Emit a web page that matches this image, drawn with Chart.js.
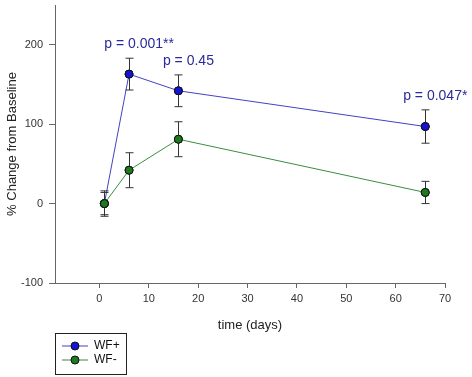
<!DOCTYPE html>
<html>
<head>
<meta charset="utf-8">
<script src="https://cdn.jsdelivr.net/npm/chart.js@4.4.1/dist/chart.umd.min.js"></script>
<style>
  html, body { margin: 0; padding: 0; background: #fff; }
  #wrap { width: 472px; height: 377px; }
</style>
</head>
<body>
<div id="wrap"><canvas id="chart" width="472" height="377"></canvas></div>
<script>
// data
const days = [1, 6, 16, 66];
const wfPlus = [0, 163, 142, 97];
const wfPlusErr = [14, 20, 20, 21];
const wfMinus = [0, 42, 81, 14];
const wfMinusErr = [16, 22, 22, 14];
const pLabels = [null, 'p = 0.001**', 'p = 0.45', 'p = 0.047*'];
const xTicks = [0, 10, 20, 30, 40, 50, 60, 70];
const yTicks = [-100, 0, 100, 200];

const FONT = 'Arial, "Liberation Sans", sans-serif';

function toPoints(xs, ys) {
  return xs.map((x, i) => ({ x: x, y: ys[i] }));
}

// vertical error bars with caps
const errorBars = {
  id: 'errorBars',
  afterDatasetsDraw(chart) {
    const ctx = chart.ctx;
    const yScale = chart.scales.y;
    ctx.save();
    ctx.strokeStyle = '#333';
    ctx.lineWidth = 1;
    chart.data.datasets.forEach((ds, di) => {
      const meta = chart.getDatasetMeta(di);
      meta.data.forEach((pt, i) => {
        const v = ds.data[i].y, e = ds.errors[i];
        const top = yScale.getPixelForValue(v + e);
        const bot = yScale.getPixelForValue(v - e);
        const x = Math.round(pt.x) + 0.5;
        ctx.beginPath();
        ctx.moveTo(x, top); ctx.lineTo(x, bot);
        ctx.moveTo(x - 4, top); ctx.lineTo(x + 4, top);
        ctx.moveTo(x - 4, bot); ctx.lineTo(x + 4, bot);
        ctx.stroke();
      });
    });
    ctx.restore();
    // redraw markers on top of bars
    chart.data.datasets.forEach((ds, di) => {
      chart.getDatasetMeta(di).data.forEach(pt => pt.draw(chart.ctx, chart.chartArea));
    });
  }
};

// p-value labels above the WF+ points
const pValues = {
  id: 'pValues',
  afterDraw(chart) {
    const ctx = chart.ctx;
    const meta = chart.getDatasetMeta(0);
    ctx.save();
    ctx.font = '14px ' + FONT;
    ctx.fillStyle = '#2a2a9a';
    ctx.textAlign = 'center';
    ctx.textBaseline = 'middle';
    pLabels.forEach((txt, i) => {
      if (!txt) return;
      const pt = meta.data[i];
      ctx.fillText(txt, pt.x + 10, pt.y - 30);
    });
    ctx.restore();
  }
};

// boxed legend under the plot
const boxLegend = {
  id: 'boxLegend',
  afterDraw(chart) {
    const ctx = chart.ctx;
    const left = chart.chartArea.left;
    const top = chart.chartArea.bottom + 50;
    ctx.save();
    ctx.strokeStyle = '#222';
    ctx.lineWidth = 1;
    ctx.strokeRect(left + 0.5, top + 0.5, 71, 41);
    ctx.font = '12px ' + FONT;
    ctx.textBaseline = 'middle';
    chart.data.datasets.forEach((ds, i) => {
      const y = top + 13 + i * 14;
      ctx.strokeStyle = ds.borderColor;
      ctx.beginPath();
      ctx.moveTo(left + 7, y); ctx.lineTo(left + 33, y);
      ctx.stroke();
      ctx.beginPath();
      ctx.arc(left + 20, y, 4, 0, Math.PI * 2);
      ctx.fillStyle = ds.pointBackgroundColor;
      ctx.fill();
      ctx.strokeStyle = '#111';
      ctx.stroke();
      ctx.fillStyle = '#111';
      ctx.fillText(ds.label, left + 39, y);
    });
    ctx.restore();
  }
};

new Chart(document.getElementById('chart'), {
  type: 'line',
  data: {
    datasets: [
      {
        label: 'WF+',
        data: toPoints(days, wfPlus),
        errors: wfPlusErr,
        borderColor: '#4242c4',
        borderWidth: 1,
        pointBackgroundColor: '#1414d4',
        pointBorderColor: '#111',
        pointBorderWidth: 1,
        pointRadius: 4
      },
      {
        label: 'WF-',
        data: toPoints(days, wfMinus),
        errors: wfMinusErr,
        borderColor: '#3c8c3c',
        borderWidth: 1,
        pointBackgroundColor: '#1e7a1e',
        pointBorderColor: '#111',
        pointBorderWidth: 1,
        pointRadius: 4
      }
    ]
  },
  options: {
    responsive: false,
    animation: false,
    layout: { padding: { left: 0, right: 27, top: 3, bottom: 44 } },
    plugins: { legend: { display: false }, tooltip: { enabled: false } },
    scales: {
      x: {
        type: 'linear',
        min: -9,
        max: 70,
        afterBuildTicks: s => { s.ticks = xTicks.map(v => ({ value: v })); },
        afterFit: s => { s.height = 50; s.paddingLeft = 0; s.paddingRight = 0; },
        grid: { drawOnChartArea: false, tickLength: 5, color: '#666' },
        border: { color: '#666', width: 1 },
        ticks: { color: '#333', padding: 4, font: { family: FONT, size: 11 } },
        title: { display: true, text: 'time (days)', color: '#222', padding: 0, font: { family: FONT, size: 13 } }
      },
      y: {
        min: -100,
        max: 250,
        afterBuildTicks: s => { s.ticks = yTicks.map(v => ({ value: v })); },
        afterFit: s => { s.width = 55; s.paddingTop = 0; s.paddingBottom = 0; },
        grid: { drawOnChartArea: false, tickLength: 6, color: '#666' },
        border: { color: '#666', width: 1 },
        ticks: { color: '#333', padding: 6, font: { family: FONT, size: 11 } },
        title: { display: true, text: '% Change from Baseline', color: '#222', padding: { top: 5 }, font: { family: FONT, size: 13 } }
      }
    }
  },
  plugins: [errorBars, pValues, boxLegend]
});
</script>
</body>
</html>
